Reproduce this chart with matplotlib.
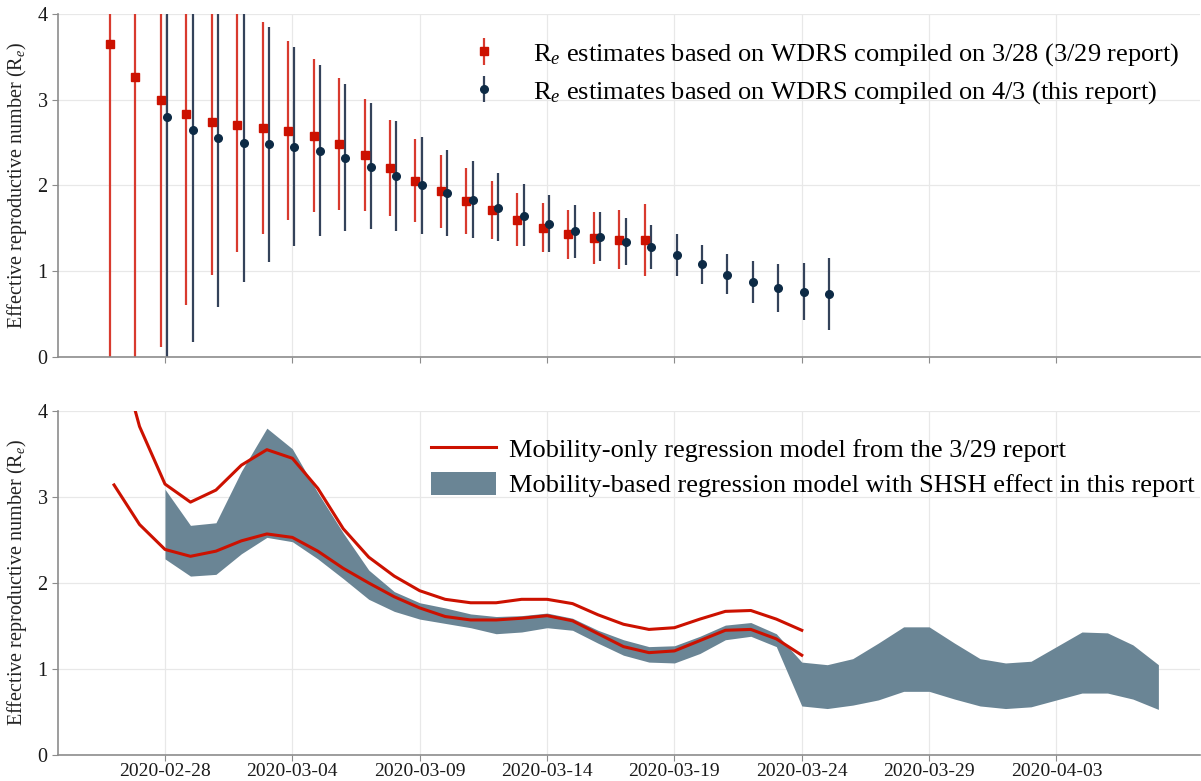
import numpy as np
import pandas as pd
import matplotlib
matplotlib.use('Agg')
import matplotlib.pyplot as plt
import matplotlib.dates as mdates

plt.rcParams['font.family'] = ['Liberation Serif', 'DejaVu Serif']
plt.rcParams['mathtext.fontset'] = 'custom'
plt.rcParams['mathtext.rm'] = 'Liberation Serif'
plt.rcParams['mathtext.it'] = 'Liberation Serif:italic'

# --- data ---
red_dates = pd.date_range('2020-02-26', '2020-03-18')
red_mid = [3.65, 3.26, 3.00, 2.83, 2.74, 2.70, 2.67, 2.64, 2.58, 2.48, 2.35, 2.20, 2.05,
           1.93, 1.82, 1.71, 1.60, 1.50, 1.43, 1.39, 1.37, 1.36]
red_lo = [0.0, 0.0, 0.12, 0.61, 0.96, 1.23, 1.44, 1.60, 1.69, 1.71, 1.70, 1.64, 1.57,
          1.51, 1.44, 1.38, 1.29, 1.22, 1.14, 1.08, 1.03, 0.95]
red_hi = [6.5, 5.8, 5.3, 4.9, 4.6, 4.3, 3.91, 3.69, 3.47, 3.25, 3.01, 2.76, 2.54,
          2.36, 2.20, 2.05, 1.91, 1.79, 1.71, 1.69, 1.71, 1.78]

blue_dates = pd.date_range('2020-02-28', '2020-03-25')
blue_mid = [2.80, 2.65, 2.55, 2.50, 2.48, 2.45, 2.40, 2.32, 2.22, 2.11, 2.00, 1.91, 1.83,
            1.74, 1.64, 1.55, 1.47, 1.40, 1.34, 1.28, 1.19, 1.08, 0.96, 0.87, 0.80, 0.76, 0.73]
blue_lo = [0.0, 0.17, 0.58, 0.87, 1.11, 1.29, 1.41, 1.47, 1.49, 1.47, 1.44, 1.41, 1.39,
           1.35, 1.29, 1.22, 1.16, 1.12, 1.07, 1.03, 0.94, 0.85, 0.73, 0.63, 0.53, 0.43, 0.31]
blue_hi = [5.5, 5.0, 4.6, 4.3, 3.85, 3.62, 3.40, 3.18, 2.96, 2.75, 2.56, 2.41, 2.28,
           2.15, 2.02, 1.89, 1.77, 1.69, 1.62, 1.54, 1.43, 1.31, 1.20, 1.12, 1.08, 1.10, 1.16]

mob_dates = pd.date_range('2020-02-26', '2020-03-24')
mob_upper = [4.9, 3.82, 3.15, 2.94, 3.08, 3.37, 3.55, 3.45, 3.10, 2.63, 2.30, 2.08, 1.91, 1.81,
             1.77, 1.77, 1.81, 1.81, 1.76, 1.63, 1.52, 1.46, 1.48, 1.58, 1.67, 1.68, 1.58, 1.45]
mob_lower = [3.14, 2.68, 2.39, 2.31, 2.37, 2.49, 2.57, 2.53, 2.37, 2.17, 2.00, 1.84, 1.71, 1.61,
             1.57, 1.57, 1.59, 1.62, 1.56, 1.41, 1.26, 1.19, 1.21, 1.33, 1.45, 1.46, 1.35, 1.16]

shsh_dates = pd.date_range('2020-02-28', '2020-04-07')
shsh_upper = [3.09, 2.67, 2.70, 3.30, 3.80, 3.56, 3.05, 2.58, 2.15, 1.90,
              1.77, 1.71, 1.64, 1.61, 1.62, 1.65, 1.59, 1.45, 1.34, 1.26,
              1.27, 1.38, 1.51, 1.54, 1.41, 1.08, 1.05, 1.12, 1.30, 1.49,
              1.49, 1.30, 1.12, 1.07, 1.09, 1.26, 1.43, 1.42, 1.28, 1.05]
shsh_lower = [2.28, 2.08, 2.10, 2.34, 2.53, 2.48, 2.28, 2.05, 1.81, 1.67,
              1.58, 1.53, 1.48, 1.41, 1.43, 1.48, 1.45, 1.30, 1.16, 1.08,
              1.07, 1.18, 1.34, 1.38, 1.26, 0.57, 0.54, 0.58, 0.64, 0.74,
              0.74, 0.65, 0.57, 0.54, 0.56, 0.64, 0.72, 0.72, 0.65, 0.53]

tick_dates = pd.date_range('2020-02-28', '2020-04-03', freq='5D')

red = '#cc1100'
red_bar = '#d83a2e'
navy = '#0d2a45'
navy_bar = '#34425a'
band = '#6a8595'
ylab = 'Effective reproductive number (R$_e$)'

fig = plt.figure(figsize=(12.01, 7.81), dpi=100)
ax1 = fig.add_axes([0.0483, 0.5429, 0.951, 0.4392])
ax2 = fig.add_axes([0.0483, 0.0333, 0.951, 0.4405])

off_r = pd.Timedelta(hours=-4)
off_b = pd.Timedelta(hours=2)
rm = np.array(red_mid)
bm = np.array(blue_mid)
ax1.errorbar(red_dates + off_r, rm, yerr=[rm - np.array(red_lo), np.array(red_hi) - rm],
             fmt='s', color=red, ecolor=red_bar, elinewidth=1.6, markersize=5.5, capsize=0,
             label='R$_e$ estimates based on WDRS compiled on 3/28 (3/29 report)')
ax1.errorbar(blue_dates + off_b, bm, yerr=[bm - np.array(blue_lo), np.array(blue_hi) - bm],
             fmt='o', color=navy, ecolor=navy_bar, elinewidth=1.6, markersize=5.5, capsize=0,
             label='R$_e$ estimates based on WDRS compiled on 4/3 (this report)')

ax2.fill_between(shsh_dates, shsh_lower, shsh_upper, color=band, linewidth=0,
                 label='Mobility-based regression model with SHSH effect in this report')
ax2.plot(mob_dates, mob_upper, color=red, lw=2.2,
         label='Mobility-only regression model from the 3/29 report')
ax2.plot(mob_dates, mob_lower, color=red, lw=2.2)

xmin = pd.Timestamp('2020-02-28') - pd.Timedelta(days=4.2)
xmax = pd.Timestamp('2020-02-28') + pd.Timedelta(days=40.64)
for ax in (ax1, ax2):
    ax.set_xlim(xmin, xmax)
    ax.set_ylim(0, 4)
    ax.set_yticks([0, 1, 2, 3, 4])
    ax.set_xticks(tick_dates)
    ax.xaxis.set_major_formatter(mdates.DateFormatter('%Y-%m-%d'))
    ax.grid(True, color='#e8e8e8', lw=0.9)
    ax.set_axisbelow(True)
    for s in ('top', 'right'):
        ax.spines[s].set_visible(False)
    for s in ('left', 'bottom'):
        ax.spines[s].set_color('#8c8c8c')
        ax.spines[s].set_linewidth(1.2)
    ax.tick_params(axis='both', colors='#8c8c8c', labelcolor='#1a1a1a', labelsize=14.5, length=4)
    ax.set_ylabel(ylab, fontsize=14.5, color='#222222', labelpad=6)
ax1.tick_params(axis='x', labelbottom=False)
ax2.tick_params(axis='x', pad=1.5, labelsize=14)

ax1.legend(loc='upper left', bbox_to_anchor=(0.338, 0.99), frameon=False, fontsize=19,
           handlelength=1.2, handletextpad=1.26, labelspacing=0.42)
h, l = ax2.get_legend_handles_labels()
ax2.legend([h[1], h[0]], [l[1], l[0]], loc='upper left', bbox_to_anchor=(0.306, 0.995),
           frameon=False, fontsize=19, handlelength=2.46, handleheight=1.0,
           handletextpad=0.5, labelspacing=0.35)

fig.savefig('out.png', dpi=100)
